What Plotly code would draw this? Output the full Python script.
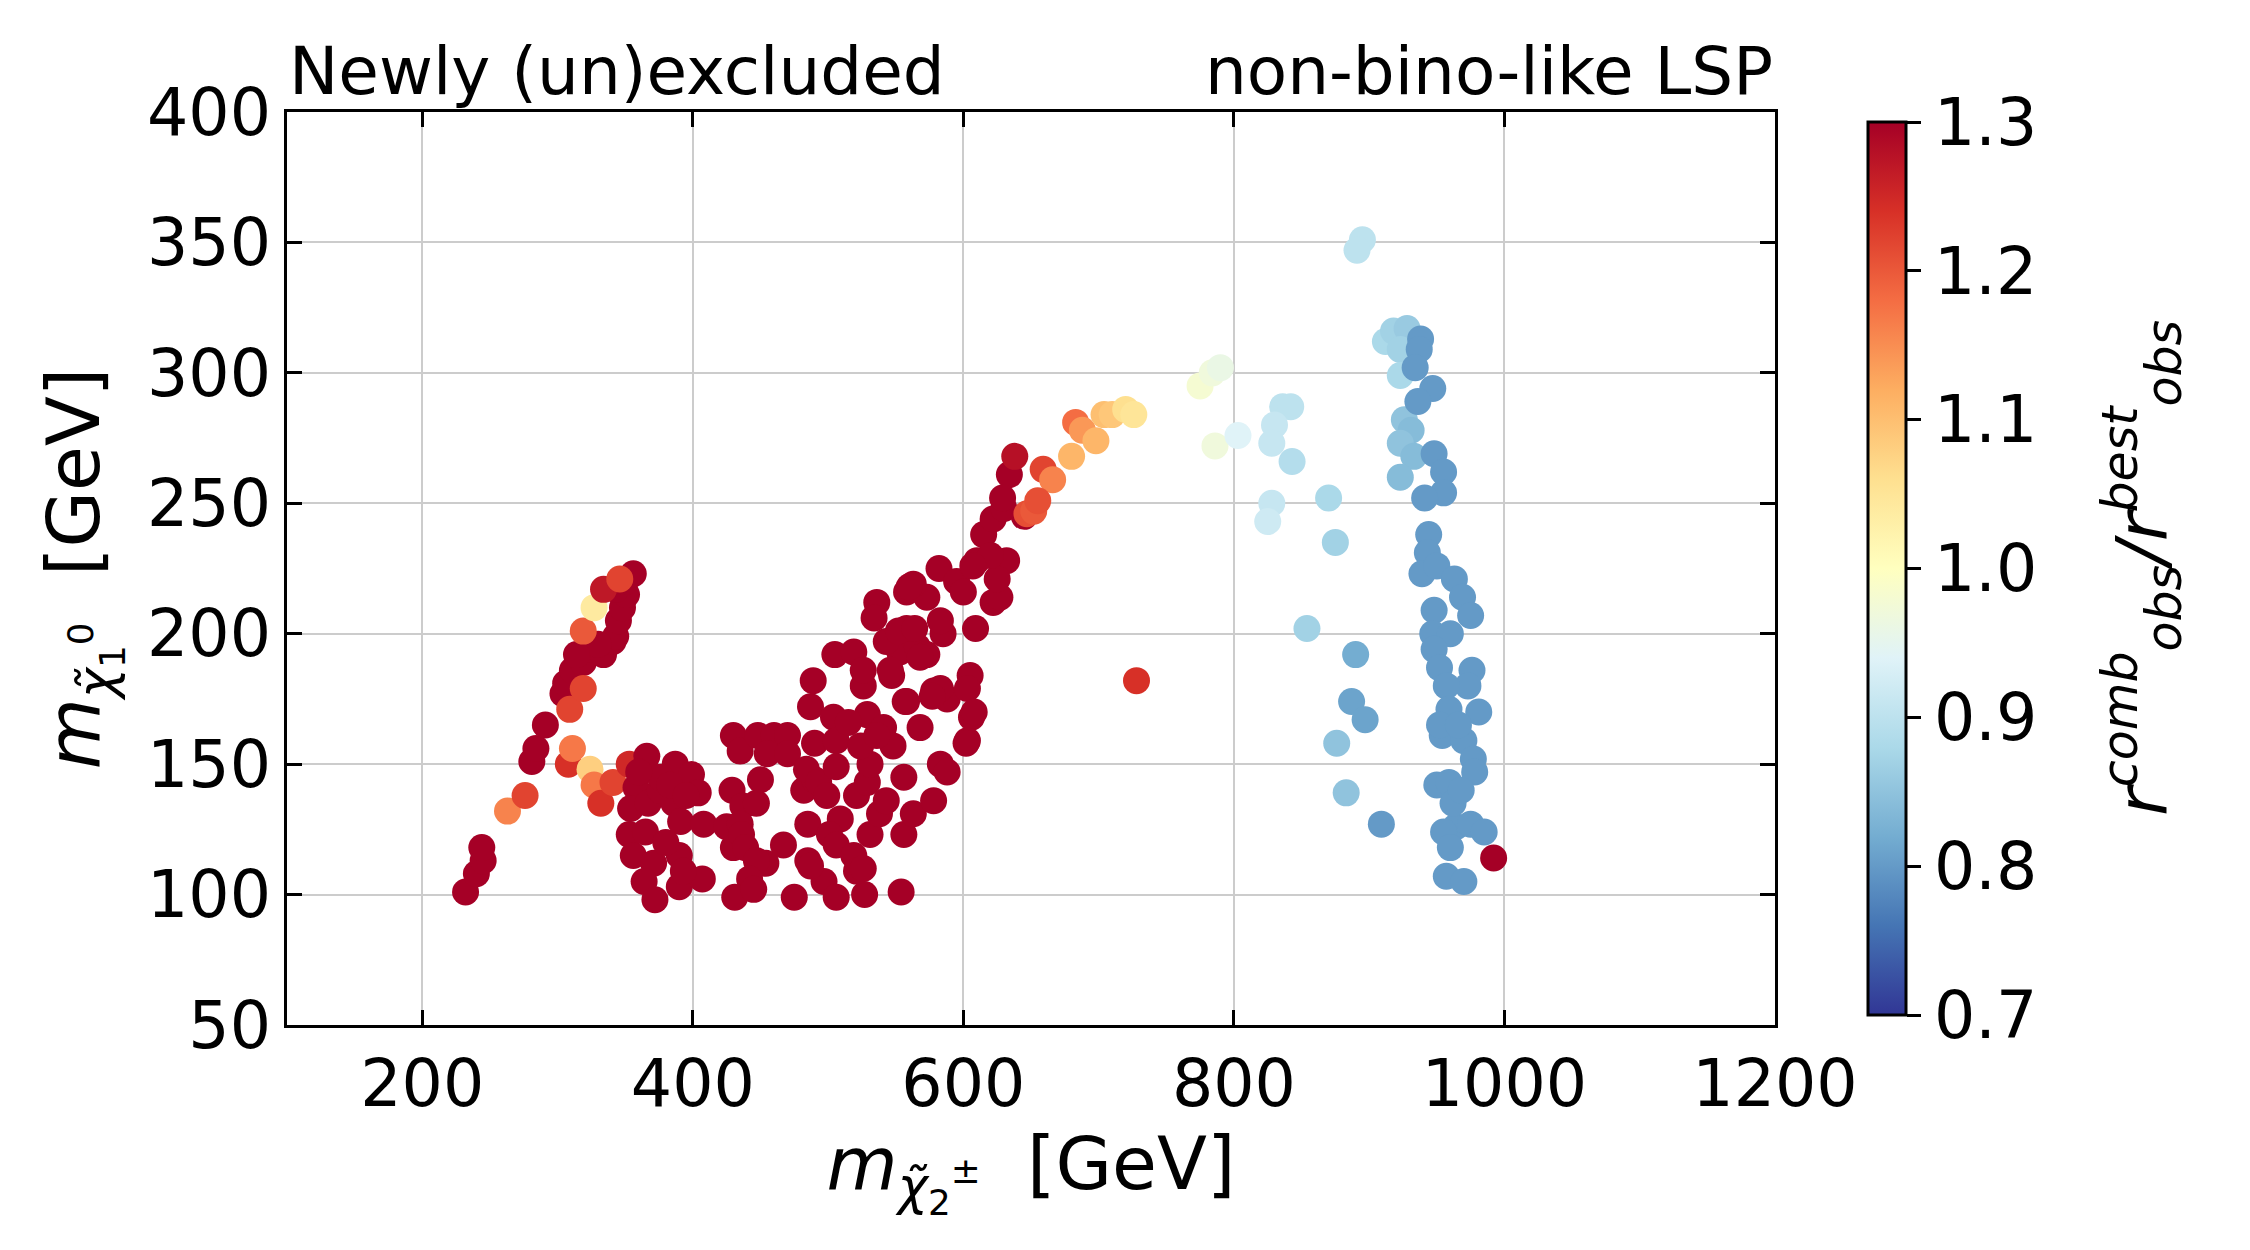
import plotly.graph_objects as go

# chargino mass m(chi2+-) [GeV], neutralino mass m(chi1^0) [GeV], ratio r_obs^comb / r_obs^best
mass_chargino = [
    # left diagonal branch
    232, 240, 245, 244, 281, 284, 291, 304, 306, 311, 319, 324, 334, 341, 343, 345, 348, 351,
    343, 350, 356, 330, 314,
    263, 276, 308, 311, 324, 327, 332, 341, 309, 319, 319, 327, 334, 346, 353,
    # cluster around 350-410
    366, 387, 399, 404, 358, 354, 367, 376, 386, 353, 356, 371, 390, 364, 372, 390, 407, 391,
    393, 376, 383, 408, 365, 380, 360, 395,
    # cluster around 410-500
    425, 430, 435, 448, 460, 470, 455, 470, 429, 450, 437, 447, 435, 430, 436, 439, 454, 447,
    467, 442, 431, 445, 475, 485, 485, 482, 490, 490, 484, 493, 497, 487,
    # cluster around 500-650
    506, 527, 554, 487, 489, 505, 519, 526, 504, 506, 506, 499, 509, 501, 506, 519, 521, 526,
    531, 538, 521, 529, 531, 543, 556, 524, 529, 541, 548, 536, 515, 556, 563, 578, 583, 588,
    568, 558, 578, 588, 583, 605, 603, 606, 603, 526, 547, 553, 566, 543, 558, 573, 585, 583,
    609, 536, 534, 558, 573, 563, 582, 595, 600, 610, 622, 627, 632, 625, 615, 622, 630, 645,
    634, 629, 620, 607, 560, 552, 564, 577, 568, 546, 608, 602, 557, 638,
    # orange / yellow tail
    647, 652, 659, 666, 680, 655, 683, 688, 698, 704, 710, 720, 726, 728,
    # light group
    775, 784, 790, 786, 803, 836, 842, 830, 828, 843, 828, 825, 870, 875, 854, 890, 887, 897,
    876, 883, 909, 895, 891, 912, 918, 928, 923, 923, 926, 931, 923, 933, 923,
    # blue band
    938, 937, 934, 947, 936, 948, 955, 955, 941, 944, 943, 939, 950, 963, 969, 975, 948, 947,
    960, 948, 952, 976, 973, 957, 959, 981, 954, 970, 977, 978, 950, 959, 964, 975, 985, 955,
    960, 957, 970, 952, 966, 962, 968,
    992,
]
mass_neutralino = [
    101, 108, 113, 118, 151, 156, 165, 177, 181, 186, 189, 194, 192, 197, 199, 205, 210, 215,
    217, 220, 223, 196, 192,
    132, 138, 150, 156, 148, 142, 135, 143, 171, 179, 201, 210, 217, 221, 150,
    153, 150, 146, 139, 141, 133, 135, 140, 135, 123, 115, 112, 115, 105, 98, 103, 106, 128,
    109, 145, 142, 127, 124, 120, 147, 138,
    126, 161, 155, 161, 161, 161, 154, 154, 140, 144, 134, 135, 127, 118, 123, 118, 112, 113,
    119, 106, 99, 102, 99, 113, 127, 140, 158, 144, 148, 143, 105, 111,
    99, 100, 101, 172, 182, 192, 193, 180, 168, 159, 149, 138, 129, 123, 119, 115, 109, 110,
    123, 131, 138, 143, 150, 136, 145, 157, 169, 164, 157, 161, 166, 123, 131, 136, 150, 147,
    164, 174, 178, 175, 179, 184, 179, 168, 159, 186, 184, 193, 195, 197, 202, 192, 200, 205,
    202, 212, 206, 216, 214, 219, 225, 220, 216, 228, 212, 214, 228, 221, 238, 244, 248, 245,
    261, 252, 230, 226, 218, 201, 202, 176, 191, 186, 170, 158, 174, 268,
    246, 247, 263, 259, 268, 251, 281, 278, 274, 284, 284, 286, 284, 182,
    295, 300, 302, 272, 276, 287, 287, 280, 273, 266, 250, 243, 252, 235, 202, 192, 174, 167,
    158, 139, 127, 351, 347, 312, 316, 317, 309, 299, 282, 278, 273, 268, 260,
    313, 309, 302, 294, 289, 269, 262, 254, 252, 238, 231, 223, 226, 221, 214, 207, 209, 200,
    200, 194, 187, 186, 180, 180, 171, 170, 161, 159, 152, 147, 142, 143, 126, 127, 124, 124,
    118, 107, 105, 165, 165, 135, 140,
    114,
]
r_ratio = (
    [1.35] * 23
    + [1.16, 1.22, 1.24, 1.17, 1.08, 1.17, 1.24, 1.22, 1.22, 1.22, 1.20, 1.04, 1.27, 1.22, 1.25]
    + [1.35] * 26
    + [1.35] * 32
    + [1.35] * 85
    + [1.28]
    + [1.21, 1.20, 1.22, 1.16, 1.11, 1.21, 1.18, 1.14, 1.11, 1.10, 1.09, 1.06, 1.05, 1.24]
    + [0.98, 0.97, 0.96, 0.97, 0.94, 0.90, 0.90, 0.91, 0.91, 0.89, 0.91, 0.92, 0.88, 0.87,
       0.87, 0.82, 0.81, 0.81, 0.85, 0.85, 0.80, 0.90, 0.90, 0.88, 0.87, 0.86, 0.87, 0.88,
       0.85, 0.84, 0.85, 0.84, 0.84]
    + [0.80] * 43
    + [1.35]
)

x_ticks = [200, 400, 600, 800, 1000, 1200]
y_ticks = [50, 100, 150, 200, 250, 300, 350, 400]
c_ticks = [0.7, 0.8, 0.9, 1.0, 1.1, 1.2, 1.3]

rdylbu_r = ["#313695", "#4575b4", "#74add1", "#abd9e9", "#e0f3f8", "#ffffbf",
            "#fee090", "#fdae61", "#f46d43", "#d73027", "#a50026"]
colorscale = [[i / 10, c] for i, c in enumerate(rdylbu_r)]

n = min(len(mass_chargino), len(mass_neutralino), len(r_ratio))
FONT = "DejaVu Sans"

fig = go.Figure(go.Scatter(
    x=mass_chargino[:n], y=mass_neutralino[:n], mode="markers",
    marker=dict(
        size=27, color=r_ratio[:n], colorscale=colorscale, cmin=0.7, cmax=1.3,
        line=dict(width=0),
        colorbar=dict(
            x=1.0625, xanchor="left", xpad=0, y=0.5, yanchor="middle", len=1, lenmode="fraction",
            thickness=38, outlinewidth=3, outlinecolor="black",
            ticks="outside", ticklen=14, tickwidth=2.5, tickcolor="black",
            tickvals=c_ticks, ticktext=[f"{v:.1f}" for v in c_ticks],
            tickfont=dict(family=FONT, size=65, color="black"),
        ),
    ),
    showlegend=False,
))

axis_common = dict(
    showgrid=True, gridcolor="#cccccc", gridwidth=2,
    showline=True, linecolor="black", linewidth=3, mirror="ticks",
    ticks="inside", ticklen=15, tickwidth=2.5, tickcolor="black",
    tickfont=dict(family=FONT, size=65, color="black"), zeroline=False,
)

fig.update_xaxes(range=[100, 1200], tickvals=x_ticks, **axis_common,
                 title=dict(text="<i>m</i><sub><i>χ̃</i><sub>2</sub><sup>±</sup></sub>  [GeV]",
                            font=dict(family=FONT, size=73, color="black"), standoff=0))
fig.update_yaxes(range=[50, 400], tickvals=y_ticks, **axis_common,
                 title=dict(text="<i>m</i><sub><i>χ̃</i><sub>1</sub><sup>0</sup></sub>  [GeV]",
                            font=dict(family=FONT, size=73, color="black"), standoff=24))

fig.add_annotation(x=0, y=1, xref="paper", yref="paper", xanchor="left", yanchor="bottom",
                   text="Newly (un)excluded", showarrow=False, yshift=0,
                   font=dict(family=FONT, size=66, color="black"))
fig.add_annotation(x=1, y=1, xref="paper", yref="paper", xanchor="right", yanchor="bottom",
                   text="non-bino-like LSP", showarrow=False, yshift=0,
                   font=dict(family=FONT, size=66, color="black"))
fig.add_annotation(x=1.247, y=0.5, xref="paper", yref="paper", xanchor="center", yanchor="middle",
                   textangle=-90, showarrow=False,
                   text="<i>r</i><sup><i>comb</i></sup><sub><i>obs</i></sub><i>/r</i><sup><i>best</i></sup><sub><i>obs</i></sub>",
                   font=dict(family=FONT, size=70, color="black"))

fig.update_layout(
    width=2250, height=1250,
    margin=dict(l=279, r=483, t=104, b=233),
    paper_bgcolor="white", plot_bgcolor="white",
    font=dict(family=FONT, color="black"),
)

fig.write_html("out.html")
